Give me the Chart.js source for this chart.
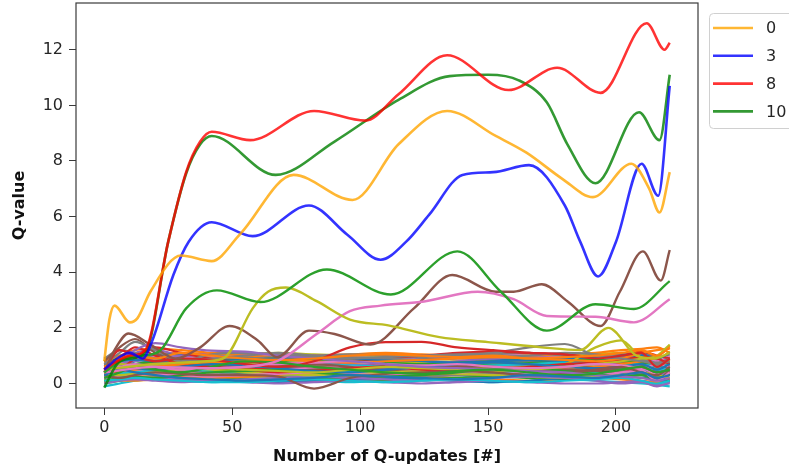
<!DOCTYPE html>
<html>
<head>
<meta charset="utf-8">
<script src="https://cdn.jsdelivr.net/npm/chart.js@4.4.1/dist/chart.umd.min.js"></script>
<style>
  html, body { margin: 0; padding: 0; background: #fff; }
</style>
</head>
<body>
<canvas id="c" width="789" height="471"></canvas>
<script>
// tick labels
const xTicks = [0, 50, 100, 150, 200];
const yTicks = [0, 2, 4, 6, 8, 10, 12];

// the four highlighted series (legend)
const seriesNames = ['0', '3', '8', '10'];

const q0X = [0, 2, 4, 10, 13, 18, 30, 42, 53, 74, 97, 115, 134, 153, 165, 179, 191, 206, 213, 217, 221];
const q0Y = [0.8, 2.3, 2.8, 2.2, 2.35, 3.3, 4.6, 4.4, 5.36, 7.5, 6.6, 8.6, 9.8, 8.9, 8.3, 7.36, 6.7, 7.9, 7.0, 6.15, 7.6];

const q3X = [0, 5, 10, 15, 18.6, 27, 33, 42, 58, 80, 95, 108, 118, 127, 140, 152, 166, 180, 186, 193, 200, 210, 216.5, 221];
const q3Y = [0.5, 0.9, 1.1, 0.9, 1.5, 3.9, 5.1, 5.8, 5.3, 6.4, 5.35, 4.45, 5.1, 6.07, 7.5, 7.6, 7.85, 6.4, 5.1, 3.85, 5.1, 7.9, 6.75, 10.7];

const q8X = [0, 5, 10, 16, 25, 32, 37.5, 42, 57, 82, 102, 115, 134, 158, 177, 194, 212, 219, 221];
const q8Y = [0.5, 0.8, 1.0, 1.2, 5.1, 7.6, 8.7, 9.05, 8.75, 9.8, 9.45, 10.4, 11.8, 10.55, 11.35, 10.45, 12.95, 12.0, 12.25];

const q10X = [0, 5, 10, 16, 25, 32, 37.5, 42, 67, 90, 115, 135, 150, 162, 173, 181, 192, 209, 217, 221];
const q10Y = [-0.15, 0.7, 0.9, 1.1, 5.1, 7.55, 8.6, 8.9, 7.5, 8.7, 10.2, 11.05, 11.1, 10.9, 10.1, 8.6, 7.2, 9.75, 8.75, 11.1];

// other series that leave the band
const greenX = [0, 8, 15, 22, 32, 44, 61, 87, 112, 138, 155, 173, 192, 207, 221];
const greenY = [0.4, 0.9, 1.0, 1.2, 2.7, 3.35, 2.93, 4.1, 3.2, 4.75, 3.3, 1.9, 2.85, 2.68, 3.68];

const oliveX = [0, 20, 40, 47, 58, 64, 71, 83, 96, 111, 131, 150, 170, 186, 197, 208, 215, 221];
const oliveY = [0.5, 0.7, 0.8, 0.93, 2.7, 3.3, 3.45, 2.96, 2.3, 2.09, 1.67, 1.49, 1.31, 1.2, 2.0, 1.0, 0.9, 1.1];

const pinkX = [0, 20, 40, 55, 68, 83, 96, 108, 125, 146, 160, 173, 192, 207, 221];
const pinkY = [0.4, 0.6, 0.55, 0.6, 0.82, 1.78, 2.6, 2.8, 2.95, 3.3, 3.03, 2.43, 2.4, 2.2, 3.03];

const brownX = [0, 4, 9.5, 18, 28, 37.5, 49, 60, 67.5, 80, 90, 104, 121, 136, 153, 160, 171, 181, 194, 201.5, 210.5, 217.5, 221];
const brownY = [0.4, 1.2, 1.8, 1.4, 0.9, 1.3, 2.07, 1.55, 0.95, 1.9, 1.78, 1.4, 2.7, 3.9, 3.3, 3.3, 3.57, 2.96, 2.07, 3.3, 4.75, 3.7, 4.8];

// the dense band of series near zero
const bandX = [0, 6, 12, 20, 30, 42, 55, 68, 82, 96, 110, 124, 138, 152, 166, 180, 192, 202, 210, 216, 221];
const bandY = [
  [0.3, 0.5, 0.4, 0.3, 0.2, 0.15, 0.1, 0.15, 0.2, 0.3, 0.25, 0.2, 0.15, 0.2, 0.3, 0.25, 0.2, 0.3, 0.4, 0.2, 0.3],
  [0.6, 0.9, 1.0, 0.9, 1.1, 1.0, 0.9, 0.85, 0.9, 1.0, 1.05, 1.0, 0.95, 1.0, 0.9, 0.95, 1.0, 1.1, 1.2, 1.0, 1.3],
  [0.2, 0.4, 0.6, 0.5, 0.4, 0.6, 0.8, 0.75, 0.6, 0.5, 0.4, 0.35, 0.45, 0.5, 0.4, 0.3, 0.35, 0.5, 0.6, 0.4, 0.5],
  [0.5, 1.2, 1.0, 0.8, 0.9, 0.85, 0.7, 0.6, 0.8, 1.3, 1.49, 1.5, 1.3, 1.2, 1.1, 1.05, 0.9, 1.0, 1.1, 0.6, 0.9],
  [0.4, 0.8, 1.2, 1.45, 1.3, 1.18, 1.15, 1.0, 0.9, 0.8, 0.7, 0.6, 0.55, 0.5, 0.45, 0.4, 0.3, 0.25, 0.2, 0.1, 0.2],
  [0.3, 0.2, 0.3, 0.4, 0.35, 0.3, 0.3, 0.25, -0.18, 0.2, 0.35, 0.4, 0.45, 0.4, 0.3, 0.35, 0.5, 0.6, 0.4, 0.3, 0.6],
  [0.5, 0.6, 0.7, 0.6, 0.5, 0.55, 0.6, 0.7, 0.75, 0.8, 0.7, 0.65, 0.7, 0.6, 0.55, 0.6, 0.7, 0.65, 0.5, 0.1, 0.4],
  [0.7, 1.1, 1.5, 1.2, 0.8, 1.05, 1.1, 1.05, 0.95, 0.9, 0.95, 1.0, 1.05, 1.1, 1.3, 1.42, 1.0, 0.9, 0.8, 0.7, 0.8],
  [0.3, 0.3, 0.35, 0.4, 0.5, 0.55, 0.5, 0.45, 0.4, 0.5, 0.6, 0.55, 0.5, 0.45, 0.5, 0.6, 0.7, 0.8, 0.9, 1.0, 1.4],
  [0.1, 0.15, 0.2, 0.15, 0.1, 0.05, 0.05, 0.1, 0.15, 0.1, 0.05, 0.1, 0.15, 0.1, 0.05, 0.1, 0.15, 0.2, 0.1, 0.0, 0.1],
  [0.5, 0.6, 0.55, 0.5, 0.6, 0.7, 0.65, 0.55, 0.45, 0.4, 0.5, 0.6, 0.7, 0.75, 0.7, 0.6, 0.55, 0.6, 0.7, 0.5, 0.7],
  [0.4, 0.45, 0.5, 0.6, 0.7, 0.75, 0.8, 0.85, 0.8, 0.75, 0.8, 0.85, 0.9, 0.95, 0.9, 0.85, 0.8, 0.9, 1.1, 1.2, 1.25],
  [0.1, 0.2, 0.25, 0.2, 0.3, 0.4, 0.45, 0.5, 0.4, 0.3, 0.25, 0.3, 0.4, 0.5, 0.55, 0.45, 0.35, 0.25, 0.3, 0.2, 0.35],
  [0.6, 0.9, 1.3, 1.0, 0.7, 0.6, 0.5, 0.4, 0.45, 0.55, 0.6, 0.5, 0.45, 0.5, 0.6, 0.7, 0.75, 0.85, 0.95, 0.9, 0.7],
  [0.2, 0.3, 0.25, 0.2, 0.15, 0.1, 0.05, 0.0, 0.05, 0.1, 0.05, 0.0, 0.05, 0.1, 0.05, 0.0, 0.0, 0.05, 0.1, -0.05, 0.0],
  [0.8, 1.3, 1.6, 1.1, 0.8, 0.7, 0.6, 0.65, 0.7, 0.6, 0.5, 0.6, 0.65, 0.6, 0.55, 0.5, 0.45, 0.5, 0.6, 0.4, 0.5],
  [0.2, 0.25, 0.3, 0.35, 0.3, 0.25, 0.3, 0.35, 0.4, 0.35, 0.3, 0.35, 0.4, 0.45, 0.4, 0.35, 0.3, 0.4, 0.5, 0.7, 0.6],
  [0.4, 0.5, 0.6, 0.7, 0.8, 0.9, 1.0, 1.1, 1.0, 0.95, 0.9, 0.85, 0.9, 0.95, 1.0, 1.1, 1.05, 0.95, 0.85, 0.75, 0.9],
  [0.6, 0.7, 0.65, 0.6, 0.55, 0.5, 0.4, 0.35, 0.3, 0.35, 0.4, 0.45, 0.5, 0.55, 0.6, 0.7, 1.3, 1.55, 0.9, 0.7, 0.8],
  [0.3, 0.35, 0.4, 0.45, 0.5, 0.45, 0.4, 0.35, 0.3, 0.4, 0.5, 0.55, 0.5, 0.45, 0.4, 0.35, 0.4, 0.5, 0.6, 0.5, 0.55],
  [0.7, 0.8, 0.85, 0.8, 0.75, 0.8, 0.85, 0.9, 0.95, 0.9, 0.85, 0.8, 0.75, 0.8, 0.85, 0.9, 0.95, 1.0, 1.05, 0.9, 1.1],
  [0.2, 0.3, 0.35, 0.3, 0.25, 0.2, 0.25, 0.3, 0.35, 0.3, 0.25, 0.3, 0.4, 0.5, 0.55, 0.5, 0.6, 0.7, 0.8, 0.95, 1.35],
  [0.5, 0.6, 0.7, 0.8, 0.85, 0.8, 0.85, 0.9, 0.85, 0.8, 0.75, 0.7, 0.75, 0.8, 0.85, 0.9, 0.85, 0.8, 0.75, 0.7, 0.6],
  [0.3, 0.5, 0.9, 1.3, 1.1, 0.9, 0.8, 0.7, 0.75, 0.8, 0.9, 1.0, 1.1, 1.15, 1.1, 1.05, 0.95, 1.0, 1.15, 1.0, 0.9],
  [0.0, 0.1, 0.15, 0.1, 0.05, 0.1, 0.15, 0.2, 0.25, 0.2, 0.15, 0.1, 0.15, 0.2, 0.25, 0.2, 0.1, 0.0, 0.05, -0.1, 0.05],
  [0.5, 0.6, 0.7, 0.75, 0.7, 0.6, 0.5, 0.45, 0.5, 0.55, 0.6, 0.65, 0.6, 0.55, 0.5, 0.45, 0.5, 0.55, 0.6, 0.5, 0.4],
  [0.4, 0.5, 0.45, 0.4, 0.35, 0.4, 0.45, 0.5, 0.55, 0.6, 0.55, 0.5, 0.55, 0.6, 0.55, 0.5, 0.45, 0.5, 0.55, 0.35, 0.5],
  [0.9, 1.2, 1.1, 0.9, 0.8, 0.85, 0.9, 0.95, 1.0, 1.05, 1.0, 0.95, 1.0, 1.05, 1.1, 1.0, 0.95, 1.05, 1.1, 0.95, 1.05],
  [0.15, 0.2, 0.25, 0.3, 0.35, 0.3, 0.25, 0.2, 0.25, 0.3, 0.35, 0.4, 0.35, 0.3, 0.25, 0.2, 0.25, 0.3, 0.4, 0.3, 0.2],
  [0.6, 0.55, 0.5, 0.45, 0.5, 0.55, 0.6, 0.65, 0.7, 0.65, 0.6, 0.55, 0.6, 0.65, 0.7, 0.75, 0.7, 0.65, 0.75, 0.6, 0.7],
  [0.25, 0.3, 0.35, 0.4, 0.3, 0.2, 0.1, 0.05, 0.1, 0.15, 0.2, 0.15, 0.1, 0.05, 0.1, 0.2, 0.3, 0.35, 0.3, 0.15, 0.05],
  [0.8, 1.0, 1.2, 1.25, 1.2, 1.1, 1.0, 0.95, 1.0, 1.05, 1.1, 1.05, 1.0, 0.95, 1.0, 1.05, 1.1, 1.2, 1.25, 1.3, 1.1],
  [0.0, 0.1, 0.2, 0.15, 0.1, 0.15, 0.2, 0.25, 0.2, 0.15, 0.1, 0.15, 0.2, 0.25, 0.2, 0.15, 0.2, 0.25, 0.2, 0.15, 0.1],
  [0.4, 0.3, 0.4, 0.5, 0.55, 0.6, 0.55, 0.5, 0.55, 0.6, 0.65, 0.7, 0.65, 0.6, 0.55, 0.5, 0.6, 0.7, 0.8, 0.5, 0.6],
  [0.6, 0.7, 0.8, 0.9, 1.0, 1.1, 1.05, 0.9, 0.8, 0.7, 0.65, 0.7, 0.8, 0.9, 0.95, 0.9, 0.8, 0.7, 0.6, 0.3, 0.5],
  [0.35, 0.45, 0.55, 0.5, 0.45, 0.5, 0.55, 0.6, 0.6, 0.55, 0.5, 0.45, 0.5, 0.55, 0.6, 0.65, 0.6, 0.55, 0.65, 0.45, 0.3],
  [0.55, 0.7, 0.9, 0.95, 0.9, 0.95, 1.0, 1.05, 1.0, 0.95, 0.9, 0.95, 1.0, 1.05, 1.0, 0.95, 0.9, 1.0, 1.1, 0.8, 1.0],
  [0.1, 0.2, 0.3, 0.25, 0.2, 0.25, 0.3, 0.35, 0.3, 0.25, 0.2, 0.25, 0.3, 0.35, 0.3, 0.25, 0.3, 0.35, 0.45, 0.2, 0.3],
  [0.7, 0.75, 0.7, 0.65, 0.7, 0.75, 0.7, 0.65, 0.6, 0.65, 0.7, 0.75, 0.8, 0.75, 0.7, 0.65, 0.7, 0.8, 0.9, 0.6, 0.85],
  [0.25, 0.35, 0.45, 0.55, 0.6, 0.65, 0.6, 0.55, 0.5, 0.45, 0.4, 0.45, 0.5, 0.45, 0.4, 0.45, 0.55, 0.6, 0.55, 0.3, 0.45],
  [0.45, 0.55, 0.8, 1.0, 1.05, 1.0, 0.95, 0.9, 0.85, 0.8, 0.85, 0.9, 0.95, 0.9, 0.85, 0.8, 0.85, 0.95, 1.0, 0.8, 0.9],
  [0.05, 0.1, 0.1, 0.15, 0.2, 0.2, 0.15, 0.1, 0.1, 0.15, 0.2, 0.25, 0.2, 0.15, 0.1, 0.15, 0.2, 0.15, 0.1, 0.05, 0.2],
  [0.8, 0.9, 0.85, 0.8, 0.75, 0.7, 0.75, 0.8, 0.85, 0.8, 0.75, 0.7, 0.65, 0.7, 0.75, 0.8, 0.75, 0.7, 0.8, 0.65, 0.75],
  [0.35, 0.4, 0.35, 0.3, 0.35, 0.4, 0.5, 0.6, 0.65, 0.6, 0.55, 0.5, 0.45, 0.4, 0.35, 0.4, 0.45, 0.5, 0.5, 0.3, 0.4],
  [0.65, 0.8, 1.1, 1.2, 1.0, 0.85, 0.8, 0.75, 0.7, 0.75, 0.8, 0.85, 0.9, 0.85, 0.8, 0.75, 0.7, 0.75, 0.85, 0.7, 0.8],
  [0.15, 0.25, 0.2, 0.15, 0.2, 0.25, 0.35, 0.4, 0.45, 0.5, 0.45, 0.4, 0.35, 0.3, 0.35, 0.4, 0.45, 0.4, 0.35, 0.25, 0.15],
  [0.5, 0.45, 0.5, 0.55, 0.6, 0.65, 0.7, 0.65, 0.6, 0.55, 0.6, 0.65, 0.6, 0.55, 0.5, 0.55, 0.6, 0.65, 0.7, 0.55, 0.65],
  [0.3, 0.4, 0.5, 0.6, 0.5, 0.4, 0.35, 0.3, 0.35, 0.45, 0.55, 0.6, 0.65, 0.7, 0.65, 0.6, 0.55, 0.45, 0.4, 0.2, 0.35],
  [0.9, 1.0, 0.95, 0.9, 0.95, 1.0, 1.05, 1.1, 1.05, 1.0, 0.95, 1.0, 1.05, 1.1, 1.05, 1.0, 1.05, 1.1, 1.0, 0.85, 1.15],
  [-0.1, 0.0, 0.1, 0.15, 0.1, 0.05, 0.1, 0.15, 0.1, 0.05, 0.1, 0.15, 0.1, 0.05, 0.1, 0.15, 0.1, 0.05, 0.0, -0.05, -0.1],
  [0.2, 0.35, 0.5, 0.6, 0.65, 0.6, 0.5, 0.4, 0.3, 0.25, 0.3, 0.35, 0.3, 0.25, 0.3, 0.35, 0.4, 0.45, 0.5, 0.4, 0.55],
  [0.75, 0.85, 0.95, 1.05, 1.1, 1.05, 1.0, 0.95, 0.9, 0.85, 0.8, 0.75, 0.8, 0.85, 0.9, 0.95, 1.0, 0.95, 0.9, 0.75, 0.95]
];

const tab10 = ['#1f77b4', '#ff7f0e', '#2ca02c', '#d62728', '#9467bd', '#8c564b', '#e377c2', '#7f7f7f', '#bcbd22', '#17becf'];
const mainColors = ['rgba(255,165,0,0.8)', 'rgba(0,0,255,0.8)', 'rgba(255,0,0,0.8)', 'rgba(0,128,0,0.8)'];

const pts = (xs, ys) => xs.map((x, i) => ({ x: x, y: ys[i] }));

const line = (data, color, width) => ({
  data: data,
  borderColor: color,
  borderWidth: width,
  pointRadius: 0,
  fill: false,
  cubicInterpolationMode: 'monotone'
});

const datasets = [
  line(pts(q0X, q0Y), mainColors[0], 2.6),
  line(pts(q3X, q3Y), mainColors[1], 2.6),
  line(pts(q8X, q8Y), mainColors[2], 2.6),
  line(pts(q10X, q10Y), mainColors[3], 2.6),
  line(pts(greenX, greenY), tab10[2], 2.4),
  line(pts(oliveX, oliveY), tab10[8], 2.4),
  line(pts(pinkX, pinkY), tab10[6], 2.4),
  line(pts(brownX, brownY), tab10[5], 2.4)
];
bandY.forEach((ys, i) => datasets.push(line(pts(bandX, ys), tab10[i % 10], 2.2)));

const tickFont = { family: 'DejaVu Sans', size: 16 };
const titleFont = { family: 'DejaVu Sans', size: 16, weight: 'bold' };

// box round the plot, like matplotlib's axes frame
const framePlugin = {
  id: 'frame',
  afterDatasetsDraw(chart) {
    const { ctx, chartArea: a } = chart;
    ctx.save();
    ctx.strokeStyle = '#3a3a3a';
    ctx.lineWidth = 1.2;
    ctx.strokeRect(a.left, a.top, a.right - a.left, a.bottom - a.top);
    ctx.restore();
  }
};

// legend box outside the plot on the right
const legendPlugin = {
  id: 'sideLegend',
  afterDraw(chart) {
    const ctx = chart.ctx;
    const x0 = 709, y0 = 13, rowH = 27.8;
    ctx.save();
    ctx.fillStyle = 'rgba(255,255,255,0.8)';
    ctx.strokeStyle = '#d0d0d0';
    ctx.lineWidth = 1;
    ctx.beginPath();
    ctx.roundRect(x0 + 0.5, y0 + 0.5, 110, 115, 4);
    ctx.fill();
    ctx.stroke();
    ctx.font = '16px "DejaVu Sans"';
    ctx.textBaseline = 'middle';
    seriesNames.forEach((name, i) => {
      const y = y0 + 15 + i * rowH;
      ctx.strokeStyle = mainColors[i];
      ctx.lineWidth = 2.6;
      ctx.beginPath();
      ctx.moveTo(713, y);
      ctx.lineTo(753, y);
      ctx.stroke();
      ctx.fillStyle = '#262626';
      ctx.fillText(name, 766, y + 1);
    });
    ctx.restore();
  }
};

new Chart(document.getElementById('c'), {
  type: 'line',
  data: { datasets: datasets },
  options: {
    responsive: false,
    animation: false,
    devicePixelRatio: 1,
    layout: { padding: { top: 3, right: 91, left: 0, bottom: 0 } },
    plugins: { legend: { display: false }, tooltip: { enabled: false } },
    scales: {
      x: {
        type: 'linear',
        min: -11.05,
        max: 232.05,
        afterBuildTicks: s => { s.ticks = xTicks.map(v => ({ value: v })); },
        afterFit: s => { s.height = 63; s.paddingLeft = 0; s.paddingRight = 0; },
        grid: { drawOnChartArea: false, drawTicks: true, tickLength: 7, color: '#3a3a3a' },
        border: { display: false },
        ticks: { font: tickFont, color: '#262626', padding: 3, maxRotation: 0 },
        title: { display: true, text: 'Number of Q-updates [#]', font: titleFont, color: '#111', padding: { top: 0, bottom: 5 } }
      },
      y: {
        min: -0.88,
        max: 13.68,
        afterBuildTicks: s => { s.ticks = yTicks.map(v => ({ value: v })); },
        afterFit: s => { s.width = 76; s.paddingTop = 0; s.paddingBottom = 0; },
        grid: { drawOnChartArea: false, drawTicks: true, tickLength: 7, color: '#3a3a3a' },
        border: { display: false },
        ticks: { font: tickFont, color: '#262626', padding: 6 },
        title: { display: true, text: 'Q-value', font: titleFont, color: '#111', padding: { top: 10, bottom: 0 } }
      }
    }
  },
  plugins: [framePlugin, legendPlugin]
});
</script>
</body>
</html>
